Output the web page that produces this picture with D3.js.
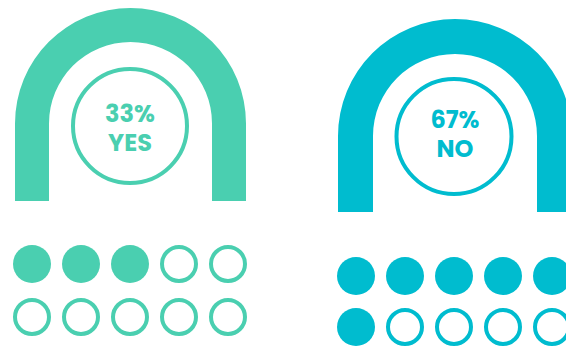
<!DOCTYPE html>
<html>
<head>
<meta charset="utf-8">
<script src="https://cdn.jsdelivr.net/npm/d3@7"></script>
<style>
  html, body { margin: 0; padding: 0; background: #fff; }
  svg { display: block; }
</style>
</head>
<body>
<svg id="chart" width="566" height="347"></svg>
<script>
// Poll answers
const answers = ["YES", "NO"];
const percents = [33, 67];
const filledDots = [3, 6];     // dots filled out of ten
const totalDots = 10;
const colors = ["#4ACFB0", "#00BCCF"];

// Panel layout (arch centre, radii, base, dot rows)
const panels = [
  { cx: 130.5, cy: 123.5, R: 115.5, r: 81.5, base: 201, ringCx: 130, ringCy: 126, ringR: 57,
    text1: 122, text2: 151, textX: 130, dotX0: 32, rows: [264, 317] },
  { cx: 455, cy: 136, R: 117, r: 82, base: 212, ringCx: 454, ringCy: 136.5, ringR: 57.5,
    text1: 128, text2: 157, textX: 455, dotX0: 356, rows: [276, 327] }
];

const svg = d3.select("#chart");
const font = "Poppins, Inter, 'Open Sans', sans-serif";

function archPath(p) {
  const path = d3.path();
  path.moveTo(p.cx - p.R, p.base);
  path.lineTo(p.cx - p.R, p.cy);
  path.arc(p.cx, p.cy, p.R, Math.PI, 2 * Math.PI, false);
  path.lineTo(p.cx + p.R, p.base);
  path.lineTo(p.cx + p.r, p.base);
  path.lineTo(p.cx + p.r, p.cy);
  path.arc(p.cx, p.cy, p.r, 0, -Math.PI, true);
  path.lineTo(p.cx - p.r, p.base);
  path.closePath();
  return path.toString();
}

answers.forEach((ans, i) => {
  const p = panels[i];
  const c = colors[i];
  const g = svg.append("g");

  g.append("path").attr("d", archPath(p)).attr("fill", c);

  g.append("circle")
    .attr("cx", p.ringCx).attr("cy", p.ringCy).attr("r", p.ringR)
    .attr("fill", "none").attr("stroke", c).attr("stroke-width", 4);

  // Two-line label: percentage over answer
  const label = g.append("text")
    .attr("text-anchor", "middle")
    .attr("font-family", font).attr("font-weight", 700).attr("font-size", 24)
    .attr("fill", c);
  label.append("tspan").attr("x", p.textX).attr("y", p.text1).text(percents[i] + "%");
  label.append("tspan").attr("x", p.textX).attr("y", p.text2).text(ans);

  // Ten-dot grid, two rows of five
  const cols = 5;
  const x = d3.scaleLinear().domain([0, cols - 1]).range([p.dotX0, p.dotX0 + 49 * (cols - 1)]);
  const y = d3.scaleOrdinal().domain([0, 1]).range(p.rows);
  const dots = d3.range(totalDots).map(k => ({ k, filled: k < filledDots[i] }));

  g.selectAll("circle.dot")
    .data(dots)
    .join("circle")
    .attr("class", "dot")
    .attr("cx", d => x(d.k % cols))
    .attr("cy", d => y(Math.floor(d.k / cols)))
    .attr("r", d => d.filled ? 19 : 17)
    .attr("fill", d => d.filled ? c : "none")
    .attr("stroke", d => d.filled ? "none" : c)
    .attr("stroke-width", 4);
});
</script>
</body>
</html>
